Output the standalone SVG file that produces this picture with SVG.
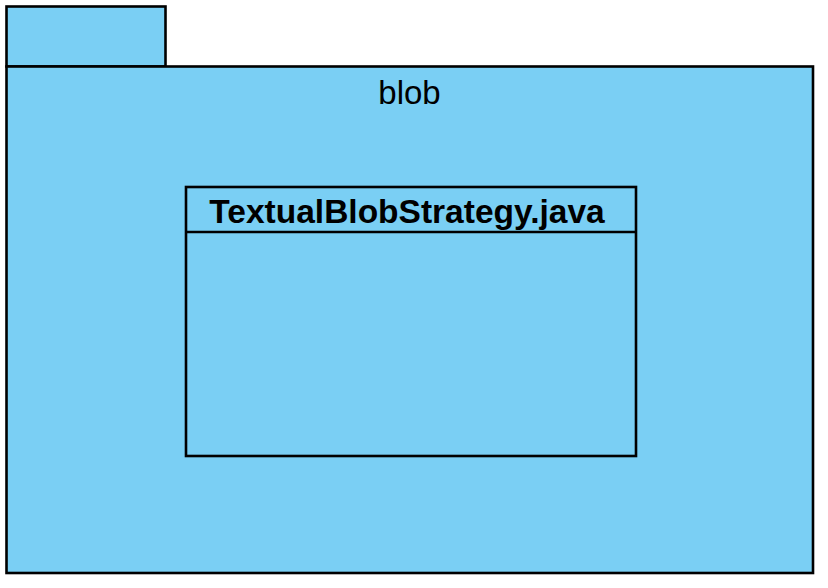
<svg xmlns="http://www.w3.org/2000/svg" width="828" height="588" viewBox="0 0 828 588">
<style>
.box{fill:#7ACFF4;stroke:#000;stroke-width:2.6}
.t{font-family:"Liberation Sans",Arial,sans-serif;fill:#000}
</style>
<rect width="828" height="588" fill="#fff"/>
<g id="package-blob">
<rect class="box" x="6.5" y="6.5" width="159" height="60"/>
<rect class="box" x="6.5" y="66.5" width="806.5" height="506.5"/>
<text class="t" x="409.5" y="103.5" font-size="33" text-anchor="middle">blob</text>
</g>
<g id="class-TextualBlobStrategy">
<rect class="box" x="186" y="187" width="450" height="269"/>
<line x1="186" y1="232" x2="636" y2="232" stroke="#000" stroke-width="2.6"/>
<text class="t" x="407" y="222.5" font-size="33.5" font-weight="bold" text-anchor="middle">TextualBlobStrategy.java</text>
</g>
<g id="connectors"/>
</svg>
